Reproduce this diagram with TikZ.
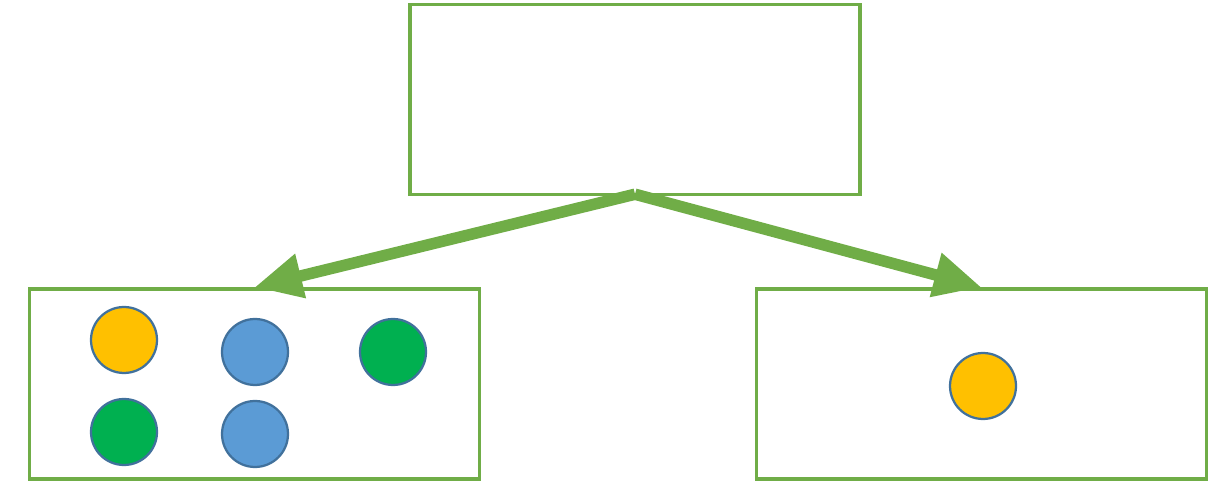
\documentclass[tikz,border=0pt]{standalone}
\usetikzlibrary{positioning, arrows.meta}
\definecolor{boxgreen}{HTML}{70AD47}
\definecolor{ballorange}{HTML}{FFC000}
\definecolor{ballblue}{HTML}{5B9BD5}
\definecolor{ballgreen}{HTML}{00B050}
\definecolor{ballrim}{HTML}{41719C}
\begin{document}
\begin{tikzpicture}[x=0.02cm, y=-0.02cm]
	\tikzset{
		group/.style={rectangle, draw=boxgreen, line width=0.07cm, minimum width=9.0cm, minimum height=3.8cm, inner sep=0pt},
		ball/.style={circle, draw=ballrim, line width=0.045cm, minimum size=1.32cm, inner sep=0pt},
		split/.style={draw=boxgreen, line width=0.23cm, -{Triangle[length=0.95cm, width=0.85cm]}}
	}
	\useasboundingbox (0,0) rectangle (1224,502);
	\node[group] (top) at (635,99.5) {};
	\node[group] (left) at (254.5,384) {};
	\node[group] (right) at (981.5,384) {};
	% balls in the left box
	\node[ball, fill=ballorange] (o1) at (124,340) {};
	\node[ball, fill=ballblue] (b1) at (255,352) {};
	\node[ball, fill=ballgreen] (g1) at (393,352) {};
	\node[ball, fill=ballgreen] (g2) at (124,432) {};
	\node[ball, fill=ballblue] (b2) at (255,434) {};
	% ball in the right box
	\node[ball, fill=ballorange] (o2) at (983,386) {};
	\draw[split] ([yshift=0.04cm]top.south) -- (left.north);
	\draw[split] ([yshift=0.04cm]top.south) -- (right.north);
\end{tikzpicture}
\end{document}
